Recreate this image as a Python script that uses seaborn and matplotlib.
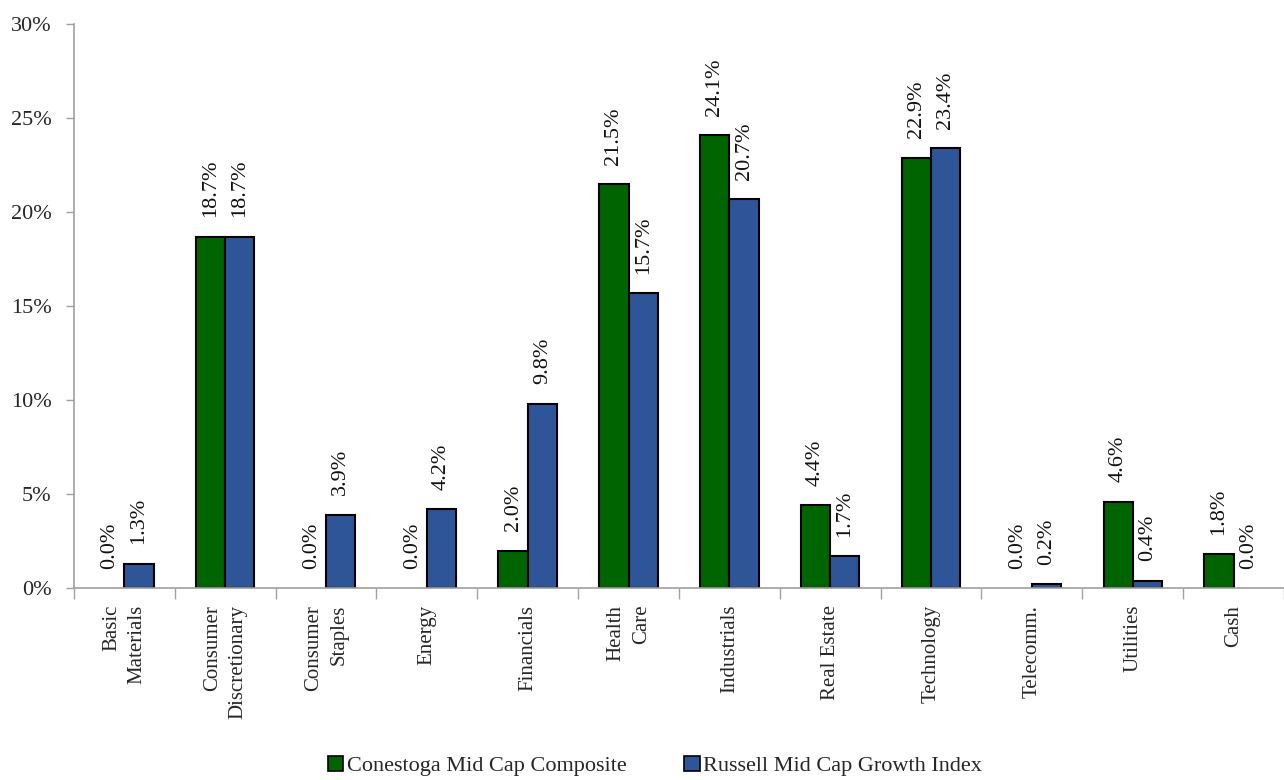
import pandas as pd
import numpy as np
import matplotlib.pyplot as plt
import seaborn as sns
from matplotlib.ticker import FuncFormatter, FixedLocator
from matplotlib.patches import Patch

categories = ["Basic\nMaterials", "Consumer\nDiscretionary", "Consumer\nStaples", "Energy",
              "Financials", "Health\nCare", "Industrials", "Real Estate", "Technology",
              "Telecomm.", "Utilities", "Cash"]
series_names = ["Conestoga Mid Cap Composite", "Russell Mid Cap Growth Index"]
conestoga = [0.0, 18.7, 0.0, 0.0, 2.0, 21.5, 24.1, 4.4, 22.9, 0.0, 4.6, 1.8]
russell = [1.3, 18.7, 3.9, 4.2, 9.8, 15.7, 20.7, 1.7, 23.4, 0.2, 0.4, 0.0]
colors = ["#006400", "#2E5597"]

df = pd.DataFrame({
    "sector": categories * 2,
    "series": [series_names[0]] * len(categories) + [series_names[1]] * len(categories),
    "weight": conestoga + russell,
})

sns.set_theme(style="white")
plt.rcParams['font.family'] = ['Liberation Serif', 'DejaVu Serif']

fig = plt.figure(figsize=(12.84, 7.8), dpi=100)
ax = fig.add_axes([0.0576, 0.246, 0.9424, 0.723])

sns.barplot(data=df, x="sector", y="weight", hue="series", order=categories,
            hue_order=series_names, palette=colors, width=0.58, saturation=1,
            edgecolor="black", linewidth=1.5, legend=False, ax=ax)

# zero-height bars get no outline
for p in ax.patches:
    if p.get_height() == 0:
        p.set_linewidth(0)

for cont in ax.containers:
    ax.bar_label(cont, fmt="%.1f%%", rotation=90, padding=14, fontsize=16, color="#111111")

ax.set_ylim(0, 30)
ax.set_xlim(-0.5, len(categories) - 0.5)
ax.set_yticks(np.arange(0, 31, 5))
ax.yaxis.set_major_formatter(FuncFormatter(lambda v, p: f"{v:.0f}%"))
ax.tick_params(axis="y", labelsize=16, length=6, width=1, color="#A0A0A0", direction="out", left=True, pad=10)

# category ticks at group boundaries, labels at centres
ax.xaxis.set_major_locator(FixedLocator(np.arange(-0.5, len(categories), 1.0)))
ax.xaxis.set_minor_locator(FixedLocator(np.arange(len(categories))))
ax.set_xticklabels([""] * (len(categories) + 1))
ax.set_xticklabels(categories, minor=True, rotation=90, ha="center", va="top",
                   multialignment="right", fontsize=15, linespacing=1.45)
ax.tick_params(axis="x", which="major", length=8, width=1, color="#A0A0A0", direction="out", bottom=True)
ax.tick_params(axis="x", which="minor", length=0, pad=12)

ax.set_xlabel("")
ax.set_ylabel("")
for side in ["top", "right"]:
    ax.spines[side].set_visible(False)
for side in ["left", "bottom"]:
    ax.spines[side].set_color("#A0A0A0")
    ax.spines[side].set_linewidth(1.2)

handles = [Patch(facecolor=c, edgecolor="black", linewidth=1.2) for c in colors]
fig.legend(handles, series_names, loc="lower center", bbox_to_anchor=(0.51, -0.021), ncol=2,
           frameon=False, fontsize=16, handlelength=0.7, handleheight=0.7, handletextpad=0.15,
           columnspacing=2.6)

fig.savefig("out.png", dpi=100)
